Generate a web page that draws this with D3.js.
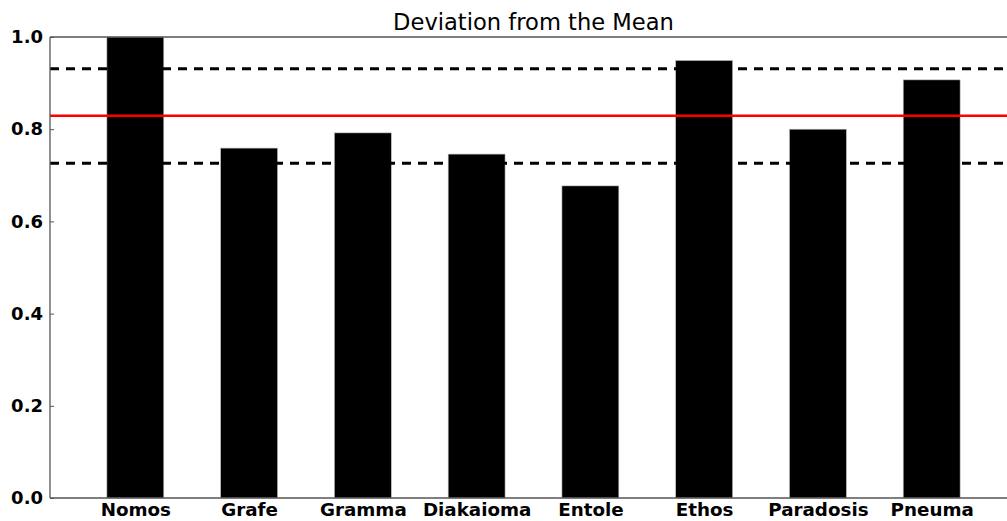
<!DOCTYPE html>
<html>
<head>
<meta charset="utf-8">
<script src="https://cdn.jsdelivr.net/npm/d3@7"></script>
<style>
  body { margin: 0; background: #fff; }
  svg { display: block; }
  text { font-family: "DejaVu Sans", sans-serif; }
</style>
</head>
<body>
<div id="chart"></div>
<script>
// dữ liệu
var categories = ["Nomos", "Grafe", "Gramma", "Diakaioma", "Entole", "Ethos", "Paradosis", "Pneuma"];
var values = [1.0, 0.759, 0.792, 0.746, 0.677, 0.949, 0.800, 0.907];
var meanValue = 0.829;
var bandValues = [0.931, 0.726];
var yTicks = [0.0, 0.2, 0.4, 0.6, 0.8, 1.0];

var W = 1007, H = 521;
var margin = { top: 37, left: 50, bottom: 23 };
var plotBottom = H - margin.bottom;
var plotRight = 1017; // khung vượt ra ngoài ảnh

var svg = d3.select("#chart").append("svg")
  .attr("width", W)
  .attr("height", H);

var x = d3.scaleLinear().domain([-0.75, categories.length - 0.25]).range([margin.left, plotRight]);
var y = d3.scaleLinear().domain([0, 1]).range([plotBottom, margin.top]);
var barW = x(0.5) - x(0);

// cột
svg.selectAll(".bar")
  .data(values)
  .enter().append("rect")
  .attr("class", "bar")
  .attr("x", (d, i) => x(i) - barW / 2)
  .attr("y", d => y(d))
  .attr("width", barW)
  .attr("height", d => y(0) - y(d))
  .attr("fill", "#000")
  .attr("stroke", "#bbb")
  .attr("stroke-width", 0.6);

// đường trung bình và độ lệch
svg.selectAll(".band")
  .data(bandValues)
  .enter().append("line")
  .attr("x1", margin.left).attr("x2", W)
  .attr("y1", d => y(d)).attr("y2", d => y(d))
  .attr("stroke", "#000")
  .attr("stroke-width", 3)
  .attr("stroke-dasharray", "9,7");

svg.append("line")
  .attr("x1", margin.left).attr("x2", W)
  .attr("y1", y(meanValue)).attr("y2", y(meanValue))
  .attr("stroke", "#ff0000")
  .attr("stroke-width", 2.5);

// khung trục
var spine = "#555";
svg.append("line").attr("x1", margin.left).attr("x2", margin.left)
  .attr("y1", margin.top).attr("y2", plotBottom)
  .attr("stroke", spine).attr("stroke-width", 1.3);
svg.append("line").attr("x1", margin.left).attr("x2", W)
  .attr("y1", margin.top).attr("y2", margin.top)
  .attr("stroke", spine).attr("stroke-width", 1.3);
svg.append("line").attr("x1", margin.left).attr("x2", W)
  .attr("y1", plotBottom).attr("y2", plotBottom)
  .attr("stroke", spine).attr("stroke-width", 1.3);

// trục Y
var yAxis = svg.append("g")
  .attr("transform", `translate(${margin.left},0)`)
  .call(d3.axisLeft(y).tickValues(yTicks).tickFormat(d3.format(".1f")).tickSizeInner(-4).tickSizeOuter(0).tickPadding(7));
yAxis.select(".domain").remove();
yAxis.selectAll("line").attr("stroke", spine);
yAxis.selectAll("text")
  .attr("font-size", 18).attr("font-weight", "bold").attr("fill", "#000")
  .attr("font-family", "DejaVu Sans");

// trục X
var xAxis = svg.append("g")
  .attr("transform", `translate(0,${plotBottom})`)
  .call(d3.axisBottom(x).tickValues(d3.range(categories.length)).tickFormat(i => categories[i]).tickSize(0).tickPadding(5));
xAxis.select(".domain").remove();
xAxis.selectAll("text")
  .attr("font-size", 18.3).attr("font-weight", "bold").attr("fill", "#000")
  .attr("font-family", "DejaVu Sans");

// tiêu đề
svg.append("text")
  .attr("x", (margin.left + plotRight) / 2)
  .attr("y", 30)
  .attr("text-anchor", "middle")
  .attr("font-size", 22.6)
  .text("Deviation from the Mean");
</script>
</body>
</html>
